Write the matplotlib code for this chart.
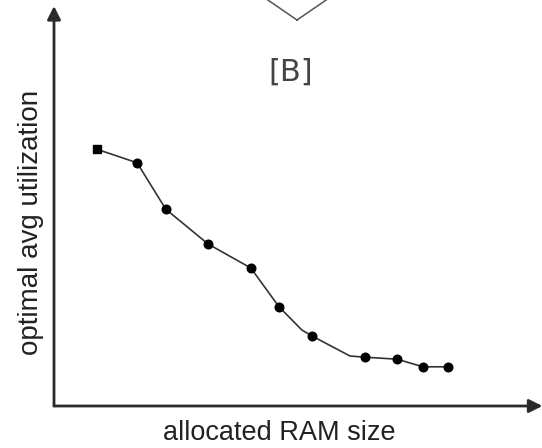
import matplotlib
matplotlib.use("Agg")
import matplotlib.pyplot as plt
from matplotlib.lines import Line2D

# values (arbitrary units, axis spans 0..100)
ram_size = [8.8, 17.1, 23.0, 31.7, 40.5, 46.3, 51.0, 53.1, 60.9, 64.0, 70.6, 75.9, 81.1]
avg_util = [64.2, 60.8, 49.2, 40.5, 34.5, 24.8, 19.0, 17.5, 12.5, 12.2, 11.7, 9.8, 9.8]
# which of the vertices carry a marker (the two bends have none)
has_marker = [True, True, True, True, True, True, False, True, False, True, True, True, True]

xlabel = "allocated RAM size"
ylabel = "optimal avg utilization"
panel = "[B]"

ink = "#2b2b2b"

fig = plt.figure(figsize=(5.42, 4.48), dpi=100)
# axes box placed so the corner of the two arrows lands where the reference has it
ax = fig.add_axes([54 / 542, 42 / 448, 486 / 542, 400 / 448])
ax.set_xlim(0, 100)
ax.set_ylim(0, 100)
ax.axis("off")

# axis arrows
arrow = dict(arrowstyle="-|>", lw=2.0, color=ink, mutation_scale=20, shrinkA=0, shrinkB=0)
ax.annotate("", xy=(0, 100), xytext=(0, 0), arrowprops=arrow, annotation_clip=False)
ax.annotate("", xy=(100.5, 0), xytext=(0, 0), arrowprops=arrow, annotation_clip=False)

# curve
ax.plot(ram_size, avg_util, color="#333333", lw=1.2, zorder=3)
mx = [x for x, m in zip(ram_size, has_marker) if m]
my = [y for y, m in zip(avg_util, has_marker) if m]
ax.plot(mx[:1], my[:1], "s", color="black", ms=6.2, zorder=4)
ax.plot(mx[1:], my[1:], "o", color="black", ms=6.2, zorder=4)

# bottom tip of a diamond cut off by the top edge
dia = Line2D([50, 62, 50, 38, 50], [96.5, 106.5, 116.5, 106.5, 96.5],
             color="#555555", lw=1.1, clip_on=False)
ax.add_line(dia)

ax.text(48.8, 83.5, panel, ha="center", va="center", fontsize=22,
        family="DejaVu Sans", color="#444444")

fig.text(279 / 542, 1 - 433 / 448, xlabel, ha="center", va="center",
         fontsize=19.5, family="Liberation Sans", color="#222222")
fig.text(31 / 542, 1 - 222 / 448, ylabel, ha="center", va="center", rotation=90,
         fontsize=20, family="Liberation Sans", color="#222222")

fig.savefig("out.png", dpi=100)
